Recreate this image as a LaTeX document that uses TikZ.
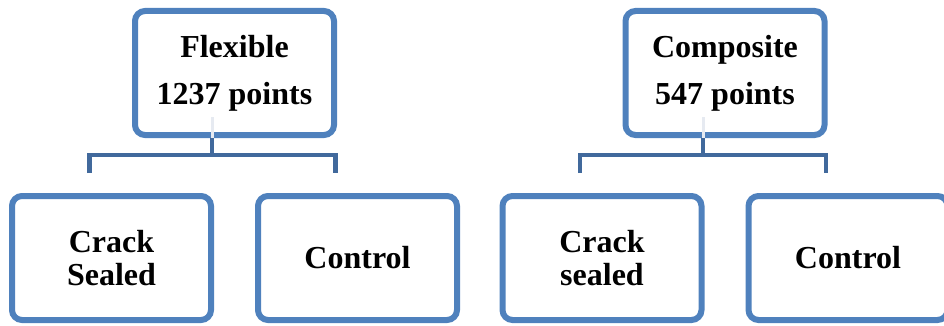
\documentclass[tikz,border=0pt]{standalone}
\usepackage{fontspec}
\setmainfont{Liberation Serif}
\usepackage{tikz}
\usetikzlibrary{positioning}
\definecolor{boxblue}{HTML}{4F81BD}
\definecolor{linkblue}{HTML}{41699C}
\definecolor{stemgrey}{HTML}{E6EAF1}

\begin{document}
\begin{tikzpicture}[x=1pt, y=-1pt,
    box/.style={draw=boxblue, line width=6pt, rounded corners=10pt, minimum width=199pt, minimum height=124pt, align=center, font=\bfseries},
    rootbox/.style={box, font=\fontsize{32}{47}\selectfont\bfseries},
    leafbox/.style={box, font=\fontsize{32}{33}\selectfont\bfseries},
    link/.style={draw=linkblue, line width=4.5pt}]
  \useasboundingbox (0,0) rectangle (944,326);

  % flexible
  \node[rootbox] (flex) at (234.5,73) {Flexible\\1237 points};
  \node[leafbox] (flexcs) at (111.5,258) {Crack\\Sealed};
  \node[leafbox, right = 41pt of flexcs] (flexctl) {Control};

  % composite
  \node[rootbox] (comp) at (725,73) {Composite\\547 points};
  \node[leafbox] (compcs) at (602,258) {Crack\\sealed};
  \node[leafbox, right = 41pt of compcs] (compctl) {Control};

  \draw[stemgrey, line width=3pt] ([xshift=-22.5pt]flex.south) -- ++(0,21pt);
  \draw[stemgrey, line width=3pt] ([xshift=-22pt]comp.south) -- ++(0,21pt);

  \draw[link] ([xshift=-22.5pt]flex.south) -- ++(0,-18pt);
  \draw[link] ([shift={(-22pt,20pt)}]flexcs.north) -- ++(0,18pt) -| ([shift={(-22pt,20pt)}]flexctl.north);
  \draw[link] ([xshift=-22pt]comp.south) -- ++(0,-18pt);
  \draw[link] ([shift={(-22pt,20pt)}]compcs.north) -- ++(0,18pt) -| ([shift={(-22pt,20pt)}]compctl.north);
\end{tikzpicture}
\end{document}
